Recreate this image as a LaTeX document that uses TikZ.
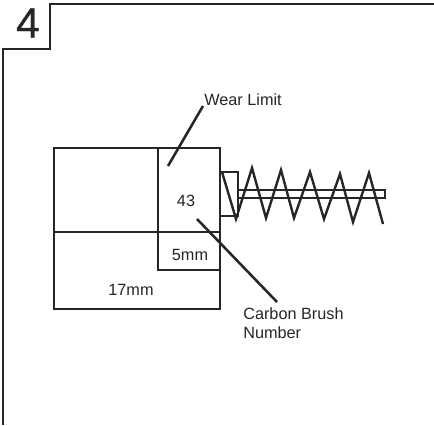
\documentclass[tikz,border=0pt]{standalone}
\usepackage{fontspec}
\setmainfont{Liberation Sans}
\newfontfamily\numfont[FakeBold=0.6]{Liberation Sans}
\usetikzlibrary{calc}

\tikzset{
	heavy/.style={line width=2.2pt,color=black!85},
	leader/.style={line width=1.9pt,color=black!85},
	fine/.style={line width=1.7pt,color=black!85},
	lbl/.style={inner sep=0pt,color=black!85,font=\fontsize{12.2}{14.8}\selectfont},
}

\begin{document}
\begin{tikzpicture}[x=0.75pt,y=-0.75pt]
	\useasboundingbox (0,0) rectangle (434,425);
	% page frame
	\draw[line width=1.9pt,color=black!85] (3,425) -- (3,49) -- (50,49) -- (50,4) -- (434,4);
	\node[color=black!85,inner sep=0pt,font=\numfont\fontsize{32}{32}\selectfont] (num) at (28,23) {4};
	% brush body
	\draw[heavy] (54,148) rectangle (220,309);
	\draw[heavy] (54,232) -- (220,232);
	\draw[heavy] (158,148) -- (158,270) -- (220,270);
	% holder and rod
	\draw[fine] (221,172) -- (238,172) -- (238,216) -- (221,216);
	\draw[fine] (238,190) rectangle (385,198);
	% spring
	\draw[line width=1.8pt,color=black!85] (222,172) -- (236,219) -- (252,168) -- (266,218) -- (281,170)
		-- (294,218) -- (310,172) -- (324,219) -- (340,174) -- (353,222) -- (369,173) -- (383,224);
	% labels
	\node[lbl,anchor=west] (wear) at (204,100) {Wear Limit};
	\node[lbl] (num43) at (186,201) {43};
	\node[lbl] (five) at (190,255) {5mm};
	\node[lbl] (seventeen) at (131,290) {17mm};
	\node[lbl,anchor=north west,align=left] (carbon) at (243,307) {Carbon Brush\\Number};
	\coordinate (wearend) at (168,166);
	\coordinate (weartop) at (203,106);
	\coordinate (carbontop) at (197,219);
	\coordinate (carbonend) at (277,302);
	\draw[leader] (weartop) -- (wearend);
	\draw[leader] (carbontop) -- (carbonend);
\end{tikzpicture}
\end{document}
